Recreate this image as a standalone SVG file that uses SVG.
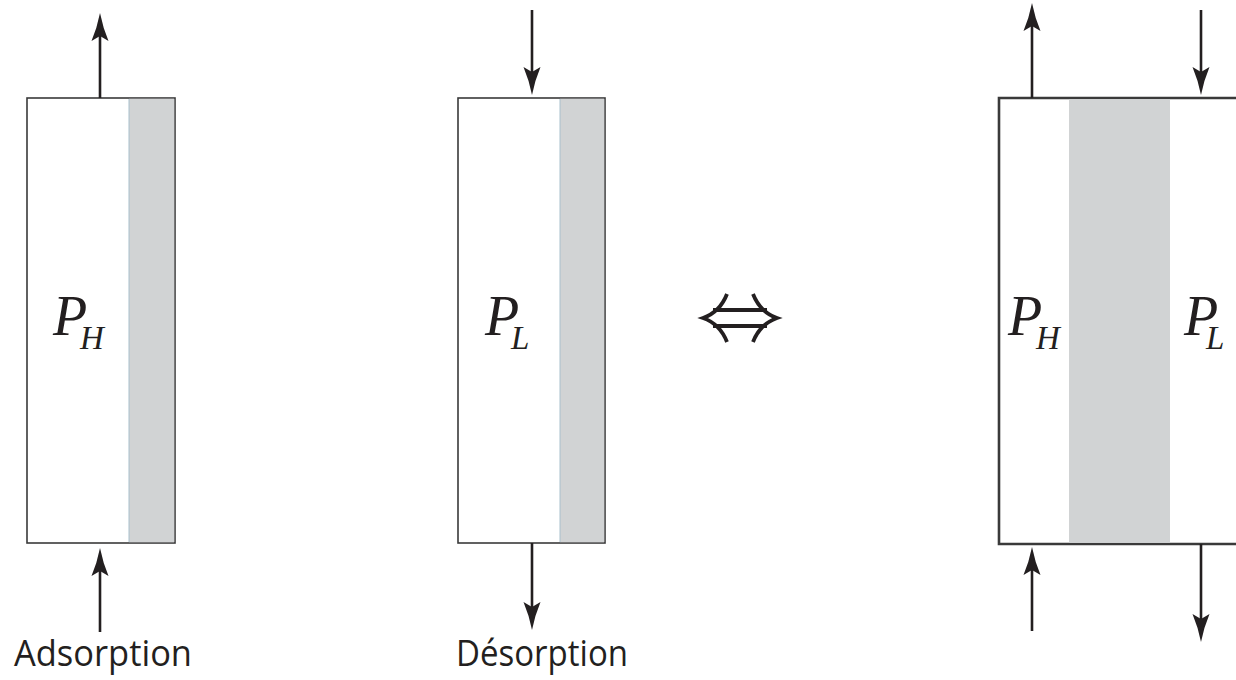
<svg xmlns="http://www.w3.org/2000/svg" width="1236" height="680" viewBox="0 0 1236 680">
<style>
.box{fill:#fff;stroke:#3a3a3a;stroke-width:1.6}
.gray{fill:#d1d3d4}
.edge{stroke:#a9c0cc;stroke-width:1}
.arr{stroke:#231f20;stroke-width:2.6;fill:none;marker-end:url(#ah)}
.p{font-family:"Liberation Serif",serif;font-style:italic;font-size:56px;fill:#231f20}
.s{font-size:33px}
.lbl{font-family:"Open Sans","Noto Sans",sans-serif;font-size:36px;fill:#231f20}
</style>
<defs>
<marker id="ah" markerUnits="userSpaceOnUse" viewBox="-2 -10 32 20" refX="18" refY="0" markerWidth="32" markerHeight="20" orient="auto" overflow="visible">
<path d="M28,0 Q13,-3 0,-8.5 L5,0 L0,8.5 Q13,3 28,0 Z" fill="#231f20"/>
</marker>
</defs>
<g id="adsorption">
<rect class="box" x="27" y="98" width="148" height="445"/>
<rect class="gray" x="129" y="98.8" width="45.2" height="443.4"/>
<line class="edge" x1="129" y1="99" x2="129" y2="542"/>
<text class="p" x="53" y="335">P<tspan class="s" x="80" y="349">H</tspan></text>
<text class="lbl" x="14" y="666" textLength="178" lengthAdjust="spacingAndGlyphs">Adsorption</text>
</g>
<g id="desorption">
<rect class="box" x="458" y="98" width="147" height="445"/>
<rect class="gray" x="560" y="98.8" width="44.2" height="443.4"/>
<line class="edge" x1="560" y1="99" x2="560" y2="542"/>
<text class="p" x="485" y="335">P<tspan class="s" x="511" y="349">L</tspan></text>
<text class="lbl" x="456" y="666" textLength="172" lengthAdjust="spacingAndGlyphs">Désorption</text>
</g>
<g id="equiv">
<path d="M713,310 H767 M713,326 H767" stroke="#231f20" stroke-width="3.8" fill="none"/>
<path d="M727,294 Q720,312 703,318 Q720,324 727,342 M753,294 Q760,312 777,318 Q760,324 753,342" stroke="#231f20" stroke-width="3.8" fill="none"/>
</g>
<g id="combined">
<path d="M1240,98 H999 V544 H1240" fill="#fff" stroke="#3a3a3a" stroke-width="2.6"/>
<rect class="gray" x="1069" y="99.3" width="101" height="443.4"/>
<text class="p" x="1008" y="335">P<tspan class="s" x="1036" y="349">H</tspan></text>
<text class="p" x="1184" y="335">P<tspan class="s" x="1206" y="349">L</tspan></text>
</g>
<g id="connectors">
<line class="arr" x1="100" y1="98" x2="100" y2="23"/>
<line class="arr" x1="100" y1="632" x2="100" y2="558"/>
<line class="arr" x1="532" y1="10" x2="532" y2="85"/>
<line class="arr" x1="532" y1="543" x2="532" y2="620"/>
<line class="arr" x1="1032" y1="98" x2="1032" y2="13"/>
<line class="arr" x1="1201" y1="10" x2="1201" y2="85"/>
<line class="arr" x1="1032" y1="631" x2="1032" y2="557"/>
<line class="arr" x1="1201" y1="544" x2="1201" y2="632"/>
</g>
</svg>
